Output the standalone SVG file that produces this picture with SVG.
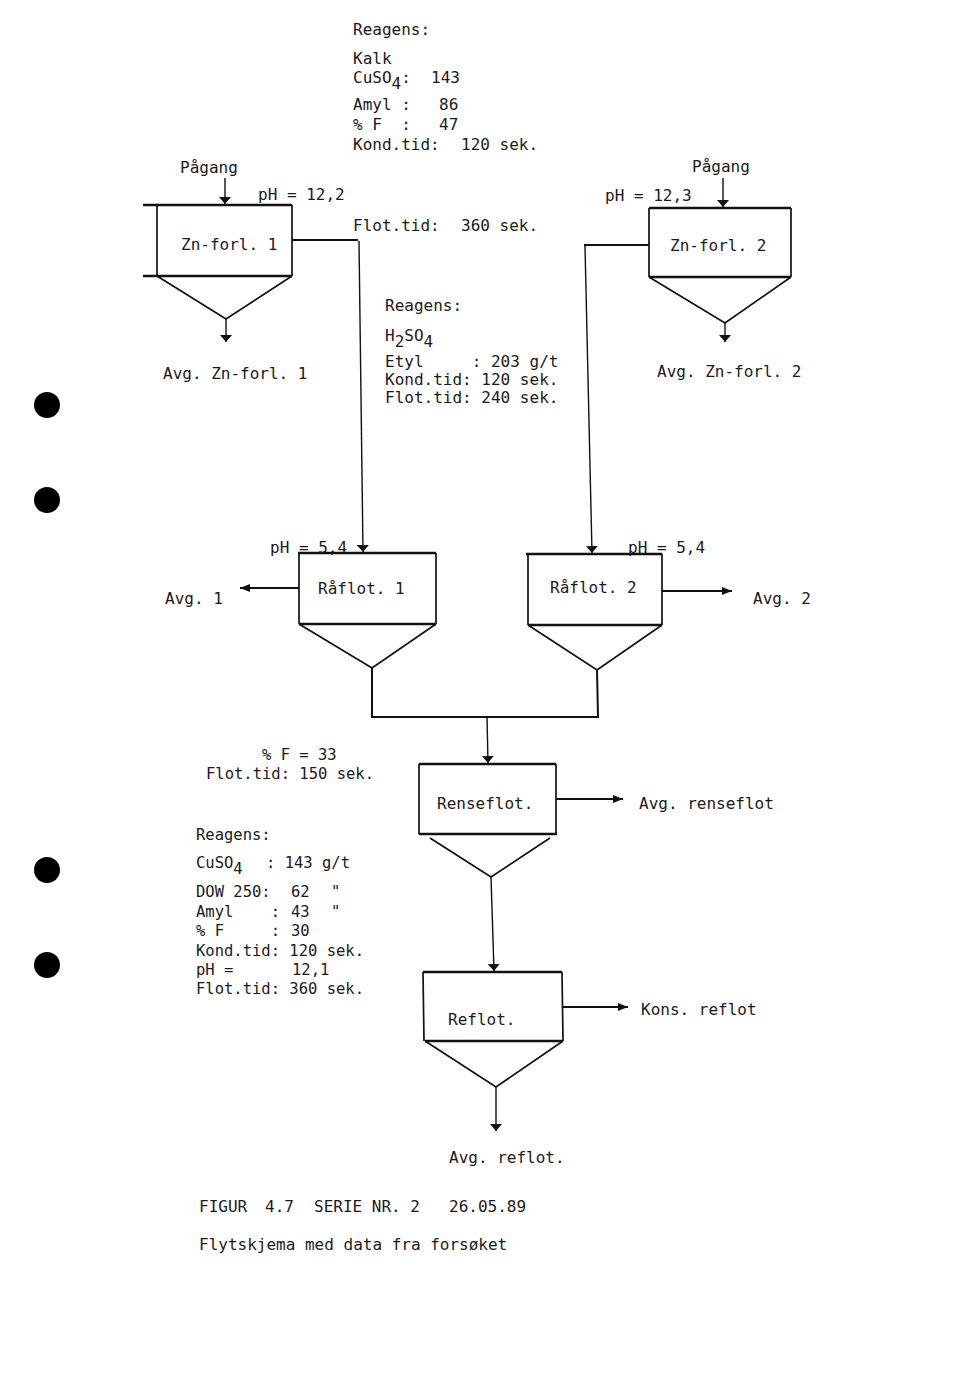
<svg xmlns="http://www.w3.org/2000/svg" width="960" height="1380" viewBox="0 0 960 1380">
<style>
text{font-family:"DejaVu Sans Mono","Liberation Mono",monospace;font-size:16px;fill:#1a1a1a;white-space:pre}
.s{font-size:15.5px}
.box{fill:none;stroke:#111;stroke-width:1.7}
.top{stroke:#111;stroke-width:2.3}
.ln{fill:none;stroke:#111;stroke-width:1.4}
.hl{fill:none;stroke:#111;stroke-width:2}
</style>
<defs>
<marker id="ad" viewBox="0 0 8 12" refX="7" refY="6" markerWidth="8" markerHeight="12" markerUnits="userSpaceOnUse" orient="auto">
<path d="M0,0 L7,6 L0,12 Z" fill="#111"/>
</marker>
<marker id="ah" viewBox="0 0 10 8" refX="10" refY="4" markerWidth="10" markerHeight="8" markerUnits="userSpaceOnUse" orient="auto">
<path d="M0,0 L10,4 L0,8 Z" fill="#111"/>
</marker>
</defs>
<rect width="960" height="1380" fill="#fff"/>

<g id="holes" fill="#000">
<circle cx="47" cy="405" r="13"/>
<circle cx="47" cy="500" r="13"/>
<circle cx="47" cy="870" r="13"/>
<circle cx="47" cy="965" r="13"/>
</g>

<g id="data-top">
<text x="353" y="35">Reagens:</text>
<text x="353" y="64">Kalk</text>
<text x="353" y="83">CuSO<tspan dy="6">4</tspan><tspan dy="-6">:</tspan></text>
<text x="431" y="83">143</text>
<text x="353" y="110">Amyl :</text>
<text x="439" y="110">86</text>
<text x="353" y="130">% F  :</text>
<text x="439" y="130">47</text>
<text x="353" y="150">Kond.tid:</text>
<text x="461" y="150">120 sek.</text>
<text x="353" y="231">Flot.tid:</text>
<text x="461" y="231">360 sek.</text>
</g>

<g id="data-mid">
<text x="385" y="311">Reagens:</text>
<text x="385" y="341">H<tspan dy="6">2</tspan><tspan dy="-6">SO</tspan><tspan dy="6">4</tspan></text>
<text x="385" y="367">Etyl     : 203 g/t</text>
<text x="385" y="385">Kond.tid: 120 sek.</text>
<text x="385" y="403">Flot.tid: 240 sek.</text>
</g>

<g id="data-low">
<text class="s" x="262" y="760">% F = 33</text>
<text class="s" x="206" y="779">Flot.tid: 150 sek.</text>
<text class="s" x="196" y="840">Reagens:</text>
<text class="s" x="196" y="868">CuSO<tspan dy="6">4</tspan></text>
<text class="s" x="266" y="868">: 143 g/t</text>
<text class="s" x="196" y="897">DOW 250:</text>
<text class="s" x="291" y="897">62</text>
<text class="s" x="331" y="897">"</text>
<text class="s" x="196" y="917">Amyl    :</text>
<text class="s" x="291" y="917">43</text>
<text class="s" x="331" y="917">"</text>
<text class="s" x="196" y="936">% F     :</text>
<text class="s" x="291" y="936">30</text>
<text class="s" x="196" y="956">Kond.tid: 120 sek.</text>
<text class="s" x="196" y="975">pH =</text>
<text class="s" x="292" y="975">12,1</text>
<text class="s" x="196" y="994">Flot.tid: 360 sek.</text>
</g>

<g id="connectors">
<line class="ln" x1="225" y1="178" x2="225" y2="204" marker-end="url(#ad)"/>
<line class="ln" x1="723" y1="178" x2="723" y2="207" marker-end="url(#ad)"/>
<polyline class="hl" points="292,240 358,240"/>
<polyline class="ln" points="359,241 363,552" marker-end="url(#ad)"/>
<polyline class="hl" points="649,245 584,245"/>
<polyline class="ln" points="585,246 592,553" marker-end="url(#ad)"/>
<line class="ln" x1="226" y1="319" x2="226" y2="342" marker-end="url(#ad)"/>
<line class="ln" x1="725" y1="323" x2="725" y2="342" marker-end="url(#ad)"/>
<line class="hl" x1="299" y1="588" x2="240" y2="588" marker-end="url(#ah)"/>
<line class="hl" x1="662" y1="591" x2="732" y2="591" marker-end="url(#ah)"/>
<polyline class="hl" points="372,668 372,717 598,717 597,670"/>
<line class="ln" x1="487" y1="717" x2="488" y2="763" marker-end="url(#ad)"/>
<line class="hl" x1="556" y1="799" x2="623" y2="799" marker-end="url(#ah)"/>
<line class="ln" x1="491" y1="877" x2="494" y2="971" marker-end="url(#ad)"/>
<line class="hl" x1="562" y1="1007" x2="628" y2="1007" marker-end="url(#ah)"/>
<line class="ln" x1="496" y1="1087" x2="496" y2="1131" marker-end="url(#ad)"/>
</g>

<g id="zn-forl-1">
<line class="top" x1="143" y1="205" x2="292" y2="205"/>
<line class="top" x1="143" y1="276" x2="292" y2="276"/>
<polyline class="box" points="157,205 157,276"/>
<polyline class="box" points="292,205 292,276"/>
<polyline class="box" points="157,276 226,319 292,276"/>
<text x="181" y="250">Zn-forl. 1</text>
<text x="180" y="173">Pågang</text>
<text x="258" y="200">pH = 12,2</text>
<text x="163" y="379">Avg. Zn-forl. 1</text>
</g>

<g id="zn-forl-2">
<line class="top" x1="649" y1="208" x2="791" y2="208"/>
<line class="top" x1="649" y1="277" x2="791" y2="277"/>
<polyline class="box" points="649,208 649,277"/>
<polyline class="box" points="791,208 791,277"/>
<polyline class="box" points="649,277 725,323 791,277"/>
<text x="670" y="251">Zn-forl. 2</text>
<text x="692" y="172">Pågang</text>
<text x="605" y="201">pH = 12,3</text>
<text x="657" y="377">Avg. Zn-forl. 2</text>
</g>

<g id="raflot-1">
<line class="top" x1="298" y1="553" x2="436" y2="553"/>
<line class="top" x1="299" y1="624" x2="436" y2="624"/>
<polyline class="box" points="299,553 299,624"/>
<polyline class="box" points="436,553 436,624"/>
<polyline class="box" points="299,624 372,668 436,624"/>
<text x="318" y="594">Råflot. 1</text>
<text x="270" y="553">pH = 5,4</text>
<text x="165" y="604">Avg. 1</text>
</g>

<g id="raflot-2">
<line class="top" x1="526" y1="554" x2="662" y2="554"/>
<line class="top" x1="528" y1="625" x2="662" y2="625"/>
<polyline class="box" points="528,554 528,625"/>
<polyline class="box" points="662,554 662,625"/>
<polyline class="box" points="528,625 597,670 662,625"/>
<text x="550" y="593">Råflot. 2</text>
<text x="628" y="553">pH = 5,4</text>
<text x="753" y="604">Avg. 2</text>
</g>

<g id="renseflot">
<line class="top" x1="419" y1="764" x2="556" y2="764"/>
<line class="top" x1="419" y1="834" x2="557" y2="834"/>
<polyline class="box" points="419,764 419,834"/>
<polyline class="box" points="556,764 556,834"/>
<polyline class="box" points="430,838 491,877 550,838"/>
<text x="437" y="809">Renseflot.</text>
<text x="639" y="809">Avg. renseflot</text>
</g>

<g id="reflot">
<line class="top" x1="423" y1="972" x2="562" y2="972"/>
<line class="top" x1="425" y1="1041" x2="563" y2="1041"/>
<polyline class="box" points="423,972 424,1041"/>
<polyline class="box" points="562,972 563,1041"/>
<polyline class="box" points="425,1041 496,1087 563,1041"/>
<text x="448" y="1025">Reflot.</text>
<text x="641" y="1015">Kons. reflot</text>
<text x="449" y="1163">Avg. reflot.</text>
</g>

<g id="caption">
<text x="199" y="1212">FIGUR</text>
<text x="265" y="1212">4.7</text>
<text x="314" y="1212">SERIE NR. 2</text>
<text x="449" y="1212">26.05.89</text>
<text x="199" y="1250">Flytskjema med data fra forsøket</text>
</g>
</svg>
